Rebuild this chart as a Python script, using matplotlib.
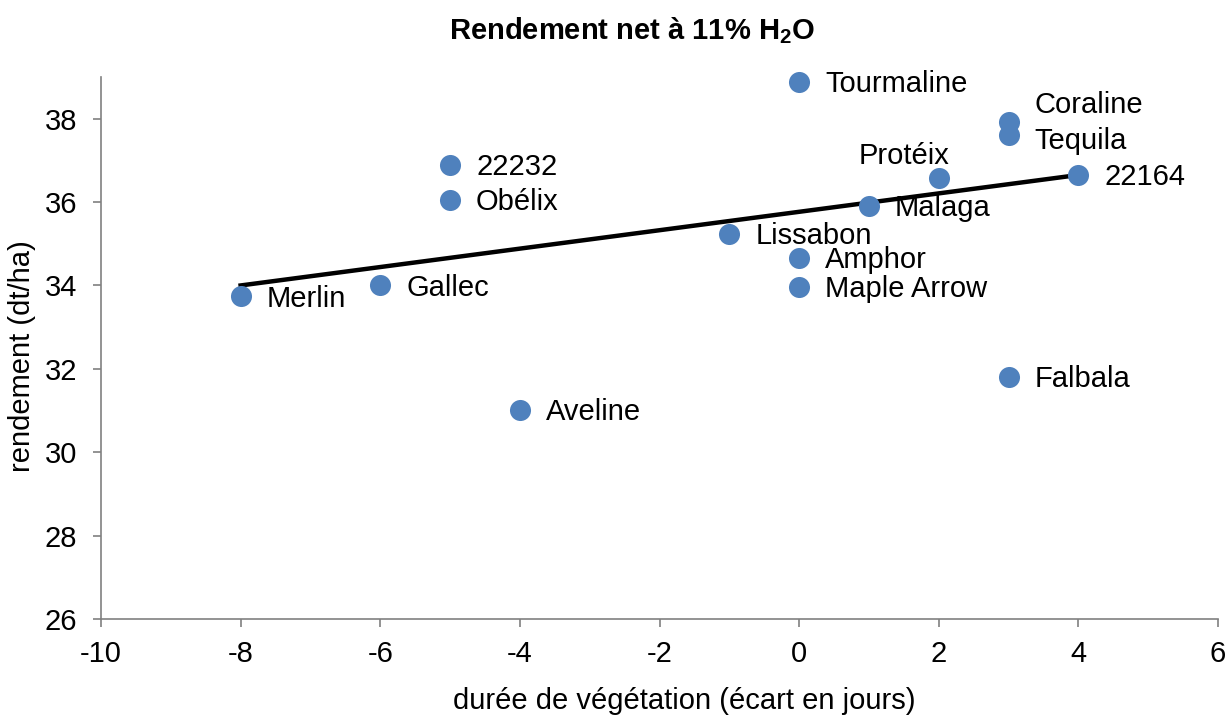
import matplotlib.pyplot as plt

plt.rcParams['font.family'] = ['Liberation Sans', 'DejaVu Sans']
plt.rcParams['mathtext.fontset'] = 'custom'
plt.rcParams['mathtext.rm'] = 'Liberation Sans'
plt.rcParams['mathtext.bf'] = 'Liberation Sans:bold'
plt.rcParams['axes.unicode_minus'] = False

# data
varieties = ['Tourmaline', 'Coraline', 'Tequila', '22164', 'Protéix', '22232', 'Obélix',
             'Malaga', 'Lissabon', 'Amphor', 'Maple Arrow', 'Gallec', 'Merlin',
             'Falbala', 'Aveline']
ecart = [0, 3, 3, 4, 2, -5, -5, 1, -1, 0, 0, -6, -8, 3, -4]
rendement = [38.88, 37.93, 37.6, 36.64, 36.57, 36.88, 36.06, 35.9, 35.23, 34.65,
             33.96, 34.0, 33.74, 31.81, 31.02]

trend_x = [-8, 4]
trend_y = [34.0, 36.65]

# label offsets in pixels (dx, dy), default is right of the point
label_offsets = {'Coraline': (26, 17), 'Tequila': (26, -6), 'Protéix': (-80, 22),
                 'Merlin': (26, -3), 'Gallec': (26, -3)}

fig = plt.figure(figsize=(12.27, 7.17), dpi=100)
ax = fig.add_axes([0.0823, 0.1367, 0.9104, 0.7559])

ax.plot(trend_x, trend_y, color='black', lw=3.2, zorder=2)
ax.scatter(ecart, rendement, s=230, color='#4F81BD', zorder=3, linewidths=0, clip_on=False)

for name, x, y in zip(varieties, ecart, rendement):
    dx, dy = label_offsets.get(name, (26, -2))
    ax.annotate(name, (x, y), xytext=(dx, dy), textcoords='offset pixels',
                ha='left', va='center', fontsize=21)

ax.set_xlim(-10, 6)
ax.set_ylim(26, 39)
ax.set_xticks(range(-10, 7, 2))
ax.set_yticks(range(26, 39, 2))
ax.tick_params(labelsize=21, color='#808080', length=6, width=1.2)
ax.tick_params(axis='x', pad=9)
ax.tick_params(axis='y', pad=11)

for side in ['top', 'right']:
    ax.spines[side].set_visible(False)
for side in ['left', 'bottom']:
    ax.spines[side].set_color('#808080')
    ax.spines[side].set_linewidth(1.2)

ax.set_ylabel('rendement (dt/ha)', fontsize=21)
ax.yaxis.set_label_coords(-0.058, 0.485)

fig.text(0.558, 2 / 717, 'durée de végétation (écart en jours)', ha='center', va='bottom',
         fontsize=21)
fig.text(0.515, 0.958, 'Rendement net à 11% H$_\\mathbf{2}$O', ha='center', va='center',
         fontsize=21, fontweight='bold')

fig.savefig('out.png', dpi=100)
